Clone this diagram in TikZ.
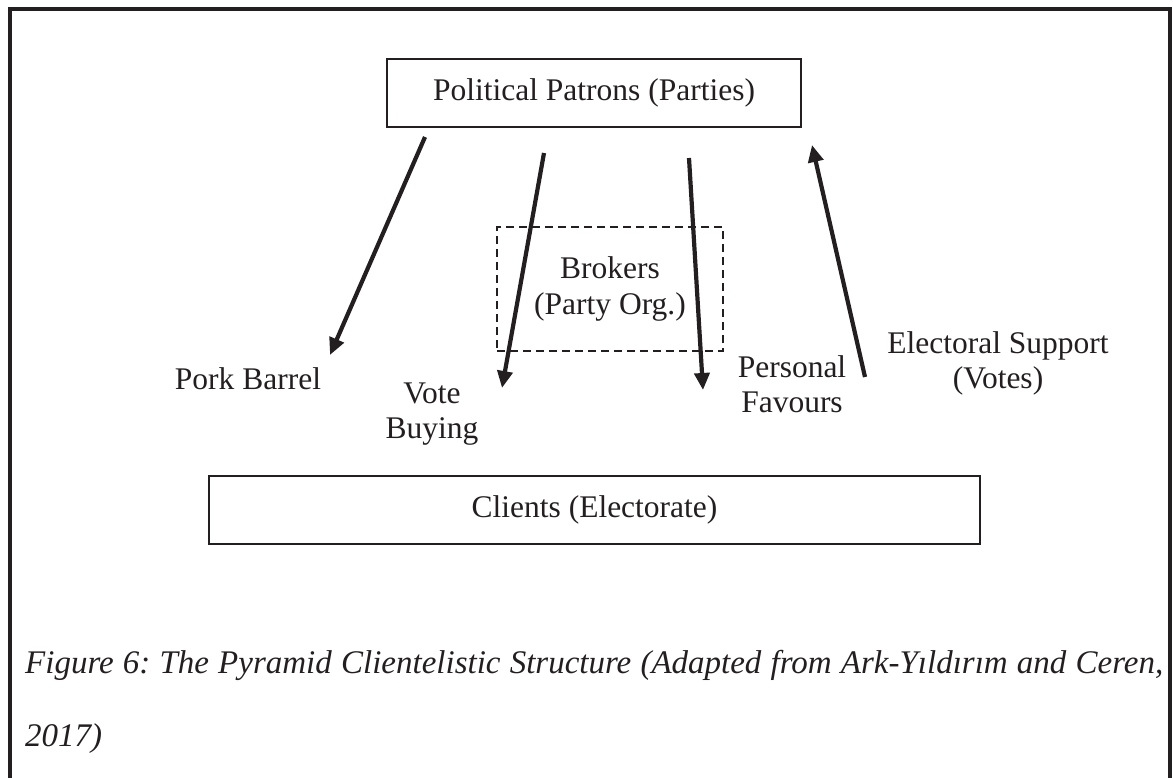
\documentclass[tikz,border=0pt]{standalone}
\usepackage{fontspec}
\setmainfont{Liberation Serif}
\usetikzlibrary{arrows.meta}
\usetikzlibrary{shapes}
\definecolor{ink}{RGB}{35,31,32}

\begin{document}
\frenchspacing
\begin{tikzpicture}[x=1pt, y=-1pt]

\tikzstyle{txt}=[font=\fontsize{31.5}{35.5}\selectfont, text=ink, align=center, inner sep=0pt]
\tikzstyle{actor}=[txt, rectangle, draw=ink, line width=2.4pt, minimum height=68pt]
\tikzstyle{broker}=[txt, rectangle, draw=ink, line width=2pt, dash pattern=on 8pt off 5pt, minimum width=226pt, minimum height=124pt]
\tikzstyle{connect}=[-{Triangle[length=17pt,width=15pt]}, line width=4.2pt, ink]

\useasboundingbox (0,0) rectangle (1173,778);
\draw[ink, line width=4pt] (9.5,778) -- (9.5,9.5) -- (1170,9.5) -- (1170,778);

\node[actor, minimum width=414pt] (patrons) at (594,93)  {Political Patrons (Parties)};
\node[actor, minimum width=771pt] (clients) at (594.5,510)  {Clients (Electorate)};
\node[broker] (brokers) at (610,289)  {Brokers\\(Party Org.)};

\node[txt, anchor=base] (pork) at (248,389)  {Pork Barrel};
\node[txt] (vote) at (432,414)  {Vote\\Buying};
\node[txt] (favours) at (792,384)  {Personal\\Favours};
\node[txt] (support) at (998,363.5)  {Electoral Support\\(Votes)};

\coordinate (porktop) at (425,137);
\coordinate (porktip) at (330,355);
\coordinate (votetop) at (544,153);
\coordinate (votetip) at (502,388);
\coordinate (favtop) at (689,158);
\coordinate (favtip) at (703,390);
\coordinate (supfoot) at (865,377);
\coordinate (suptip) at (812,145);

\draw[connect] (porktop) -- (porktip);
\draw[connect] (votetop) -- (votetip);
\draw[connect] (favtop) -- (favtip);
\draw[connect] (supfoot) -- (suptip);

% caption
\node[txt, font=\fontsize{33}{37}\selectfont, anchor=base west] (caption) at (25,673)  {\makebox[1138pt][s]{\itshape Figure 6: The Pyramid Clientelistic Structure (Adapted from Ark-Yıldırım and Ceren,}};
\node[txt, font=\fontsize{33}{37}\selectfont, anchor=base west] (year) at (25,746)  {\itshape 2017)};

\end{tikzpicture}
\end{document}
